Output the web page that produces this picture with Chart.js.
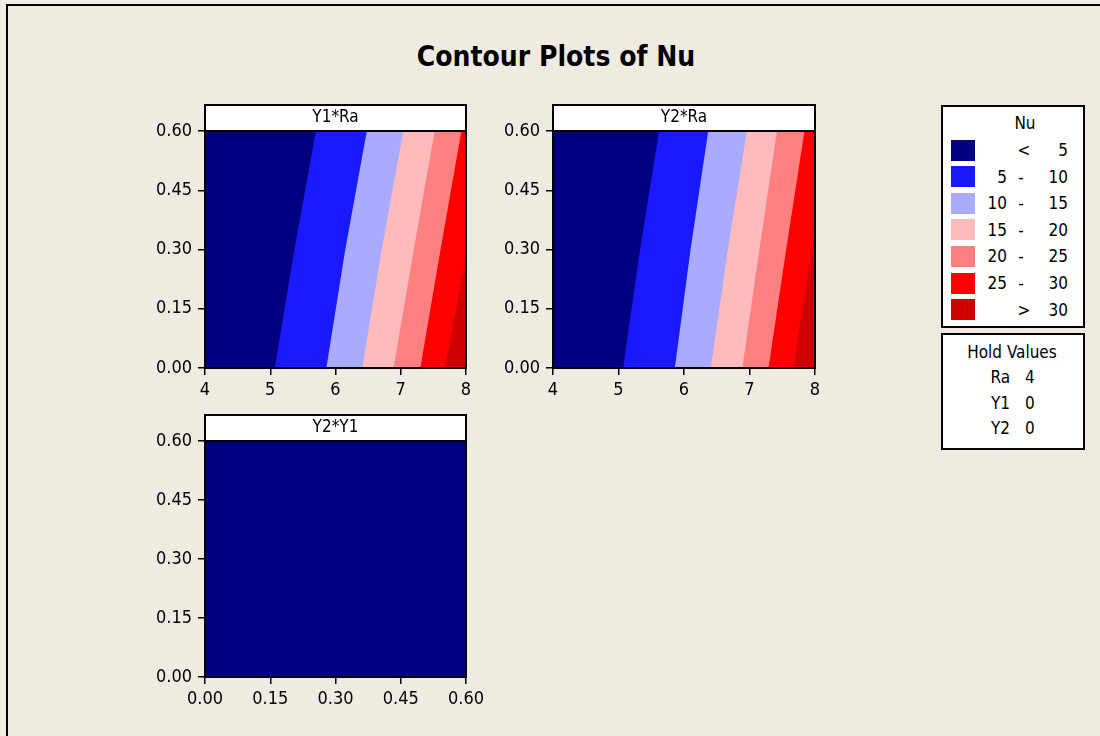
<!DOCTYPE html>
<html>
<head>
<meta charset="utf-8">
<script src="https://cdn.jsdelivr.net/npm/chart.js@4.4.1/dist/chart.umd.min.js"></script>
<style>
  html, body { margin:0; padding:0; }
  body { width:1100px; height:736px; background:#efebe0; position:relative; overflow:hidden;
         font-family:"DejaVu Sans Condensed","DejaVu Sans",sans-serif; color:#000; }
  #frame { position:absolute; left:6px; top:4px; width:1200px; height:800px;
           border-left:2px solid #000; border-top:2px solid #000; }
  #title { position:absolute; left:0; width:1112px; top:40px; text-align:center;
           font-size:28px; font-weight:bold; line-height:34px; }
  canvas { position:absolute; }
  .box { position:absolute; border:2px solid #000; background:#fff; box-sizing:border-box; }
  .t { position:absolute; font-size:17px; line-height:20px; white-space:nowrap; }
  .sw { position:absolute; width:24px; height:21px; }
</style>
</head>
<body>
<div id="frame"></div>
<div id="title">Contour Plots of Nu</div>
<div id="c1wrap"><canvas id="c1"></canvas></div>
<div id="c2wrap"><canvas id="c2"></canvas></div>
<div id="c3wrap"><canvas id="c3"></canvas></div>
<div class="box" id="legendBox" style="left:941px;top:105px;width:144px;height:223px;"></div>
<div class="box" id="holdBox" style="left:941px;top:333px;width:144px;height:117px;"></div>
<script>
// ---------------- data ----------------
const panelTitles = ['Y1*Ra', 'Y2*Ra', 'Y2*Y1'];
const yTicks = [0, 0.15, 0.30, 0.45, 0.60];
const raTicks = [4, 5, 6, 7, 8];
const y1Ticks = [0, 0.15, 0.30, 0.45, 0.60];
const yLevels = [0, 0.3, 0.6];           // vertical levels at which contour boundaries are read

// Y1*Ra panel: Ra value of each contour boundary (Nu = 5,10,15,20,25) at yLevels
const y1raNu5  = [5.07, 5.37, 5.70];
const y1raNu10 = [5.86, 6.15, 6.48];
const y1raNu15 = [6.41, 6.71, 7.04];
const y1raNu20 = [6.89, 7.20, 7.52];
const y1raNu25 = [7.30, 7.61, 7.93];
const y1raNu30x = [7.68, 8.00];
const y1raNu30y = [0.00, 0.28];

// Y2*Ra panel
const y2raNu5  = [5.07, 5.33, 5.62];
const y2raNu10 = [5.86, 6.10, 6.37];
const y2raNu15 = [6.41, 6.67, 6.96];
const y2raNu20 = [6.89, 7.15, 7.42];
const y2raNu25 = [7.29, 7.56, 7.84];
const y2raNu30x = [7.67, 8.00];
const y2raNu30y = [0.00, 0.35];

// legend
const legendLow  = ['',  '5', '10', '15', '20', '25', ''];
const legendSep  = ['<', '-', '-',  '-',  '-',  '-',  '>'];
const legendHigh = ['5', '10', '15', '20', '25', '30', '30'];
const holdNames  = ['Ra', 'Y1', 'Y2'];
const holdValues = [4, 0, 0];

// ---------------- styles ----------------
const bandColors = ['#000080', '#1a1aff', '#aaaaff', '#ffbbbb', '#ff8080', '#ff0000', '#d00000'];
const FONT = '"DejaVu Sans Condensed","DejaVu Sans",sans-serif';
const TICK_SIZE = 18;

function bandDatasets(xmin, xmax, ymin, ymax, bounds, nu30x, nu30y) {
  const ds = [];
  const mk = (pts, color, k) => ({ data: pts, showLine: true, fill: 'shape', backgroundColor: color,
    borderWidth: 0, borderColor: 'rgba(0,0,0,0)', pointRadius: 0, tension: 0, order: 20 - k });
  ds.push(mk([{x:xmin,y:ymin},{x:xmin,y:ymax},{x:xmax,y:ymax},{x:xmax,y:ymin}], bandColors[0], 0));
  bounds.forEach((b, i) => {
    const pts = b.map((x, j) => ({x, y: yLevels[j]}));
    pts.push({x:xmax,y:ymax}, {x:xmax,y:ymin});
    ds.push(mk(pts, bandColors[i+1], i+1));
  });
  if (nu30x) {
    const pts = nu30x.map((x, j) => ({x, y: nu30y[j]}));
    pts.push({x:xmax,y:ymin});
    ds.push(mk(pts, bandColors[6], 6));
  }
  return ds;
}

const stripPlugin = {
  id: 'strip',
  afterDraw(chart, args, opts) {
    const {ctx, chartArea: a} = chart;
    ctx.save();
    ctx.lineWidth = 2;
    ctx.strokeStyle = '#000';
    ctx.strokeRect(a.left, a.top, a.right - a.left, a.bottom - a.top);
    ctx.fillStyle = '#fff';
    ctx.fillRect(a.left, a.top - 26, a.right - a.left, 26);
    ctx.strokeRect(a.left, a.top - 26, a.right - a.left, 26);
    ctx.fillStyle = '#000';
    ctx.font = '17px ' + FONT;
    ctx.textAlign = 'center';
    ctx.textBaseline = 'middle';
    ctx.fillText(opts.text, (a.left + a.right) / 2, a.top - 13);
    ctx.restore();
  }
};

function makePanel(id, box, area, xr, xt, xfmt, datasets, title) {
  const cv = document.getElementById(id);
  cv.style.left = box.l + 'px'; cv.style.top = box.t + 'px';
  cv.width = box.w; cv.height = box.h;
  cv.style.width = box.w + 'px'; cv.style.height = box.h + 'px';
  const yW = area.l - box.l, xH = box.t + box.h - area.b;
  new Chart(cv, {
    type: 'scatter',
    data: { datasets },
    options: {
      responsive: false, animation: false, devicePixelRatio: 1,
      layout: { padding: { left: 0, top: area.t - box.t, right: box.l + box.w - area.r, bottom: 0 } },
      plugins: { legend: { display: false }, tooltip: { enabled: false }, strip: { text: title } },
      scales: {
        x: {
          type: 'linear', min: xr[0], max: xr[1],
          afterBuildTicks: s => { s.ticks = xt.map(v => ({value: v})); },
          afterFit: s => { s.height = xH; },
          ticks: { color: '#000', font: { family: FONT, size: TICK_SIZE }, padding: 5, maxRotation: 0,
                   callback: v => xfmt(v) },
          grid: { display: true, drawOnChartArea: false, drawTicks: true, tickLength: 7, color: '#000', lineWidth: 1.5 },
          border: { display: true, color: '#000', width: 2 }
        },
        y: {
          type: 'linear', min: 0, max: 0.6,
          afterBuildTicks: s => { s.ticks = yTicks.map(v => ({value: v})); },
          afterFit: s => { s.width = yW; },
          ticks: { color: '#000', font: { family: FONT, size: TICK_SIZE }, padding: 6,
                   callback: v => Number(v).toFixed(2) },
          grid: { display: true, drawOnChartArea: false, drawTicks: true, tickLength: 7, color: '#000', lineWidth: 1.5 },
          border: { display: true, color: '#000', width: 2 }
        }
      }
    },
    plugins: [stripPlugin]
  });
}

makePanel('c1', {l:140, t:95, w:345, h:315}, {l:205, t:131, r:466, b:368}, [4, 8], raTicks, v => String(v),
  bandDatasets(4, 8, 0, 0.6, [y1raNu5, y1raNu10, y1raNu15, y1raNu20, y1raNu25], y1raNu30x, y1raNu30y), panelTitles[0]);
makePanel('c2', {l:488, t:95, w:345, h:315}, {l:553, t:131, r:815, b:368}, [4, 8], raTicks, v => String(v),
  bandDatasets(4, 8, 0, 0.6, [y2raNu5, y2raNu10, y2raNu15, y2raNu20, y2raNu25], y2raNu30x, y2raNu30y), panelTitles[1]);
makePanel('c3', {l:140, t:405, w:360, h:315}, {l:205, t:441, r:466, b:677}, [0, 0.6], y1Ticks, v => Number(v).toFixed(2),
  bandDatasets(0, 0.6, 0, 0.6, [], null, null), panelTitles[2]);

// ---------------- legend (HTML text) ----------------
function addText(txt, left, top, align, width) {
  const d = document.createElement('div');
  d.className = 't';
  d.textContent = txt;
  d.style.top = top + 'px';
  if (align === 'right') { d.style.left = (left - width) + 'px'; d.style.width = width + 'px'; d.style.textAlign = 'right'; }
  else if (align === 'center') { d.style.left = (left - width/2) + 'px'; d.style.width = width + 'px'; d.style.textAlign = 'center'; }
  else { d.style.left = left + 'px'; }
  document.body.appendChild(d);
}
addText('Nu', 1025, 113, 'center', 60);
for (let i = 0; i < 7; i++) {
  const cy = 150 + i * 26.6;
  const sw = document.createElement('div');
  sw.className = 'sw';
  sw.style.left = '951px'; sw.style.top = (cy - 10.5) + 'px';
  sw.style.background = bandColors[i];
  document.body.appendChild(sw);
  if (legendLow[i]) addText(legendLow[i], 1007, cy - 10, 'right', 40);
  addText(legendSep[i], legendSep[i] === '-' ? 1021 : 1024, cy - 10, 'center', 20);
  addText(legendHigh[i], 1068, cy - 10, 'right', 40);
}
addText('Hold Values', 1012, 342, 'center', 130);
holdNames.forEach((n, i) => {
  const cy = 377 + i * 25.7;
  addText(n, 1010, cy - 10, 'right', 40);
  addText(String(holdValues[i]), 1025, cy - 10, 'left');
});
</script>
</body>
</html>
